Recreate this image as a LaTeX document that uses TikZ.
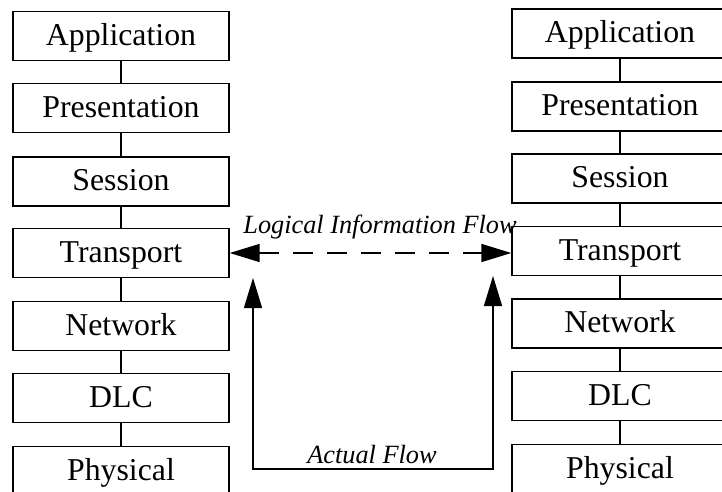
\documentclass[tikz,border=0pt]{standalone}
\usepackage{fontspec}
\setmainfont{Liberation Serif}
\usetikzlibrary{arrows.meta}
\begin{document}
\begin{tikzpicture}[x=1pt,y=-1pt,
  layer/.style={draw,line width=1.4pt,minimum width=216pt,minimum height=49pt,
    inner sep=0pt,text height=21pt,text depth=3pt,
    font=\fontsize{31.8}{36}\selectfont},
  link/.style={line width=1.2pt},
  flowlabel/.style={font=\fontsize{26.3}{30}\selectfont\itshape,inner sep=0pt,anchor=base},
  bigtip/.tip={Triangle[length=30pt,width=18pt]}
]
\useasboundingbox (0,0) rectangle (722,491);
\clip (0,0) rectangle (722,491);
% left stack
\node[layer] (la) at (121,36) {Application};
\node[layer] (lp) at (121,108) {Presentation};
\node[layer] (ls) at (121,181.5) {Session};
\node[layer] (lt) at (121,253) {Transport};
\node[layer] (ln) at (121,326) {Network};
\node[layer] (ld) at (121,398) {DLC};
\node[layer] (lph) at (121,471) {Physical};
% right stack
\node[layer] (ra) at (620,33.5) {Application};
\node[layer] (rp) at (620,106.5) {Presentation};
\node[layer] (rs) at (620,178.5) {Session};
\node[layer] (rt) at (620,251) {Transport};
\node[layer] (rn) at (620,323.5) {Network};
\node[layer] (rd) at (620,396) {DLC};
\node[layer] (rph) at (620,469) {Physical};
% vertical links
\foreach \a/\b in {la/lp,lp/ls,ls/lt,lt/ln,ln/ld,ld/lph,ra/rp,rp/rs,rs/rt,rt/rn,rn/rd,rd/rph}
  \draw[link] (\a.south) -- (\b.north);
% logical flow
\coordinate (lend) at (rt.west |- lt.east);
\draw[line width=1.6pt,dash pattern=on 20pt off 14pt,{bigtip}-{bigtip}] (lt.east) -- (lend);
\node[flowlabel] (logl) at (380,233) {Logical Information Flow};
% actual flow
\coordinate (aL) at (253,278);
\coordinate (aR) at (493,276);
\coordinate (aB) at (373,469);
\draw[line width=1.4pt,{bigtip}-{bigtip}] (aL) |- (aB) -| (aR);
\node[flowlabel] (actl) at (372,463) {Actual Flow};
\end{tikzpicture}
\end{document}
